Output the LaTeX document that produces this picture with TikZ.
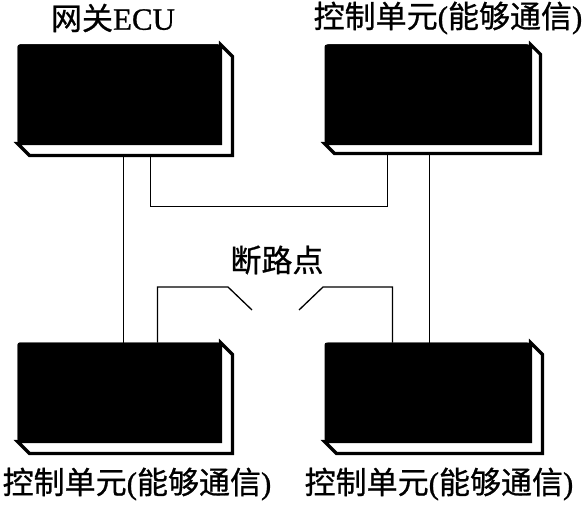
\documentclass[tikz,border=0pt]{standalone}
\usepackage{fontspec}
\setmainfont{Liberation Serif}[FakeBold=0.8]
\newfontfamily\cjk{Noto Sans CJK SC}[FakeBold=0.8]
\usetikzlibrary{calc}
\tikzset{
  frontbox/.style={rectangle, fill=black, draw=black, line width=1pt, rounded corners=2pt, inner sep=0pt, minimum width=202, minimum height=98},
  face/.style={draw=black, fill=white, line width=3.2pt, line join=miter},
  wire/.style={draw=black, line width=1.3pt},
  lbl/.style={inner sep=0pt, font=\fontsize{31}{36}\selectfont}
}
\newcommand{\depthfaces}[2]{%
  \path[face] (#1.north east) -- ++(#2,#2) |- ($(#1.south west)+(#2,#2)$) -- (#1.south west) -- (#1.south east) -- cycle;
  \node[frontbox] at (#1.center) {};
}
\begin{document}
\begin{tikzpicture}[x=1pt,y=-1pt]
\useasboundingbox (0,0) rectangle (585,513);
\node[frontbox] (tl) at (119,94) {};
\node[frontbox, minimum width=205] (tr) at (427.5,94) {};
\node[frontbox] (bl) at (119,392) {};
\node[frontbox, minimum width=205] (br) at (427.5,392) {};
\depthfaces{tl}{12}
\depthfaces{tr}{10}
\depthfaces{bl}{12}
\depthfaces{br}{12}
% wires
\draw[wire] ($(tl.south west)+(106,12)$) -- ($(bl.north west)+(106,0)$);
\draw[wire] ($(tl.south west)+(133,12)$) |- ($(tr.south west)+(63,63)$) -- ($(tr.south west)+(63,10)$);
\draw[wire] ($(tr.south west)+(105,10)$) -- ($(br.north west)+(105,0)$);
\coordinate (bpl) at (252,310);
\coordinate (bpr) at (299,310);
\draw[wire] ($(bl.north west)+(140,0)$) |- (228,287) -- (bpl);
\draw[wire] (bpr) -- (323,287) -| ($(br.north west)+(68,0)$);
% labels
\node[lbl] (lgw) at (113,18) {{\cjk 网关}ECU};
\node[lbl] (ltr) at (448,18) {{\cjk 控制单元}({\cjk 能够通信})};
\node[lbl] (lbl) at (137,484) {{\cjk 控制单元}({\cjk 能够通信})};
\node[lbl] (lbr) at (439,484) {{\cjk 控制单元}({\cjk 能够通信})};
\node[lbl] (lbrk) at (277,260) {\cjk 断路点};
\end{tikzpicture}
\end{document}
